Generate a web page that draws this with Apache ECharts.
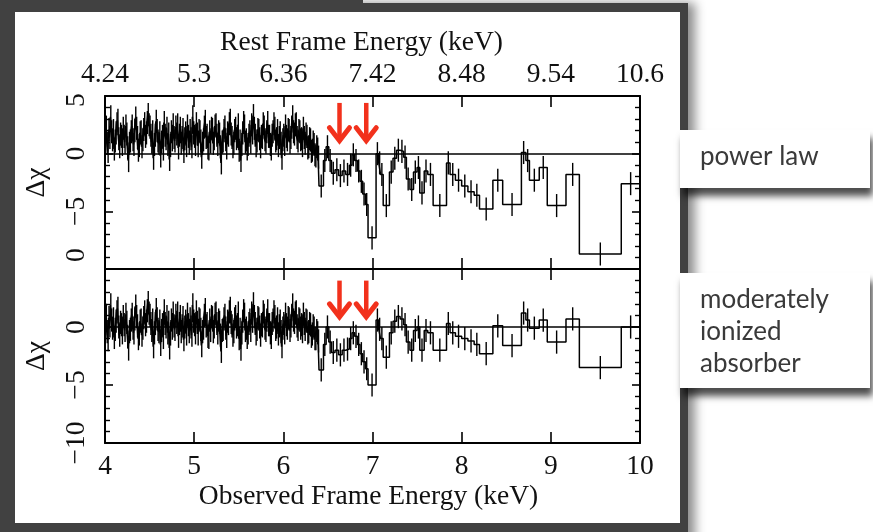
<!DOCTYPE html>
<html>
<head>
<meta charset="utf-8">
<script src="https://cdn.jsdelivr.net/npm/echarts@6/dist/echarts.min.js"></script>
<style>
html,body{margin:0;padding:0;background:#fff;}
#chart{width:873px;height:532px;}
</style>
</head>
<body>
<div id="chart"></div>
<script>
// Spectral bin edges in observed-frame energy (keV): lower edge of every bin plus the last upper edge
const binEdges = [
  4.00,4.01,4.02,4.03,4.04,4.05,4.06,4.07,4.08,4.09,4.10,4.11,4.12,4.13,4.14,4.15,4.16,4.17,4.18,4.19,
  4.20,4.21,4.22,4.23,4.24,4.25,4.26,4.27,4.28,4.29,4.30,4.31,4.32,4.33,4.34,4.35,4.36,4.37,4.38,4.39,
  4.40,4.41,4.42,4.43,4.44,4.45,4.46,4.47,4.48,4.49,4.50,4.51,4.52,4.53,4.54,4.55,4.56,4.57,4.58,4.59,
  4.60,4.61,4.62,4.63,4.64,4.65,4.66,4.67,4.68,4.69,4.70,4.71,4.72,4.73,4.74,4.75,4.76,4.77,4.78,4.79,
  4.80,4.81,4.82,4.83,4.84,4.85,4.86,4.87,4.88,4.89,4.90,4.91,4.92,4.93,4.94,4.95,4.96,4.97,4.98,4.99,
  5.00,5.01,5.02,5.03,5.04,5.05,5.06,5.07,5.08,5.09,5.10,5.11,5.12,5.13,5.14,5.15,5.16,5.17,5.18,5.19,
  5.20,5.21,5.22,5.23,5.24,5.25,5.26,5.27,5.28,5.29,5.30,5.31,5.32,5.33,5.34,5.35,5.36,5.37,5.38,5.39,
  5.40,5.41,5.42,5.43,5.44,5.45,5.46,5.47,5.48,5.49,5.50,5.51,5.52,5.53,5.54,5.55,5.56,5.57,5.58,5.59,
  5.60,5.61,5.62,5.63,5.64,5.65,5.66,5.67,5.68,5.69,5.70,5.71,5.72,5.73,5.74,5.75,5.76,5.77,5.78,5.79,
  5.80,5.81,5.82,5.83,5.84,5.85,5.86,5.87,5.88,5.89,5.90,5.91,5.92,5.93,5.94,5.95,5.96,5.97,5.98,5.99,
  6.00,6.01,6.02,6.03,6.04,6.05,6.06,6.07,6.08,6.09,6.10,6.11,6.12,6.13,6.14,6.15,6.16,6.17,6.18,6.19,
  6.20,6.21,6.22,6.23,6.24,6.25,6.26,6.27,6.28,6.29,6.30,6.31,6.32,6.33,6.34,6.35,6.36,6.37,6.38,6.39,
  6.40,6.45,6.48,6.51,6.54,6.58,6.62,6.66,6.70,6.74,
  6.77,6.80,6.83,6.86,6.89,6.92,6.95,7.04,7.07,7.09,
  7.12,7.19,7.23,7.27,7.31,7.35,7.38,7.42,7.46,7.50,
  7.53,7.58,7.62,7.68,7.83,7.87,7.93,8.00,8.07,8.14,
  8.20,8.35,8.46,8.67,8.72,8.76,8.87,8.96,9.17,9.32,
  9.79,10.00
];

// Residuals (delta chi) against a simple power law
const powerLawResid = [
  1.6,2.3,0.9,0.2,2.1,1.4,3.2,1.9,1.2,2.0,0.4,1.1,1.8,2.6,2.9,1.3,0.6,1.7,1.5,0.8,
  2.2,1.5,1.0,2.4,1.7,0.5,-0.6,0.9,1.1,1.9,2.4,1.2,0.8,2.0,3.1,2.2,1.4,0.3,0.7,1.8,
  1.9,0.6,1.2,2.1,2.6,1.5,1.8,2.7,3.4,2.5,2.3,1.6,1.0,1.9,-0.4,0.8,1.6,2.8,2.0,1.1,
  0.9,1.8,-0.2,1.0,1.5,0.4,2.7,1.6,1.3,2.2,0.8,1.7,-0.5,0.7,1.9,1.2,2.5,1.4,1.1,2.3,
  1.7,2.5,0.5,1.6,2.2,0.9,1.4,2.1,0.2,1.3,1.8,0.7,2.4,1.5,0.9,2.0,1.3,0.6,3.2,1.8,
  1.5,0.8,2.6,1.7,0.7,2.0,1.9,1.1,-0.3,0.9,1.2,2.3,2.8,1.4,1.6,0.5,0.4,1.9,1.0,2.2,
  2.1,0.9,1.3,2.4,2.5,1.6,0.8,1.9,1.7,0.6,-0.8,1.0,1.1,2.0,2.3,1.2,0.5,1.8,1.6,2.6,
  2.9,1.7,1.4,0.6,0.9,2.0,2.2,1.3,1.5,2.5,0.3,1.1,-0.6,0.8,1.8,2.7,2.4,1.0,1.2,0.4,
  0.8,1.6,1.9,1.0,2.5,1.8,3.3,2.2,1.6,0.7,1.1,2.1,2.0,1.3,0.6,1.5,1.4,2.6,2.3,1.2,
  1.0,1.9,2.7,1.5,1.5,0.8,0.4,1.6,1.9,2.6,2.2,1.1,1.3,2.0,0.7,1.4,1.8,0.9,-0.4,1.2,
  1.6,0.8,2.4,1.5,1.2,2.1,2.0,1.0,1.4,2.3,3.2,1.9,1.7,2.5,2.6,1.4,1.1,2.0,1.9,1.2,
  1.3,0.7,2.2,1.4,0.9,1.7,1.5,0.5,0.6,1.3,1.2,0.2,0.3,1.0,0.8,-0.1,-0.2,0.6,0.4,-0.3,
  -2.8,-0.6,0.6,-0.6,-1.7,-1.4,-1.9,-1.5,-1.8,-1.0,
  -0.1,-0.6,-1.5,-2.4,-3.5,-4.4,-7.3,0.0,-0.8,-1.8,
  -4.5,-1.6,-0.4,0.3,0.2,-0.3,-2.2,-3.1,-1.6,-1.2,
  -3.4,-1.5,-1.8,-4.5,-0.8,-1.8,-2.3,-2.8,-3.3,-3.6,
  -4.8,-2.3,-4.4,0.1,-0.6,-2.3,-1.2,-4.5,-1.8,-8.7,
  -2.6
];

// Residuals (delta chi) against the moderately ionized absorber model
const absorberResid = [
  0.3,1.0,-0.4,-1.1,0.8,0.1,1.9,0.6,-0.1,0.7,-0.9,-0.2,0.5,1.3,1.6,0.0,-0.7,0.4,0.2,-0.5,
  0.9,0.2,-0.3,1.1,0.4,-0.8,-1.9,-0.4,-0.2,0.6,1.1,-0.1,-0.5,0.7,1.8,0.9,0.1,-1.0,-0.6,0.5,
  0.6,-0.7,-0.1,0.8,1.3,0.2,0.5,1.4,2.1,1.2,1.0,0.3,-0.3,0.6,-1.7,-0.5,0.3,1.5,0.7,-0.2,
  -0.4,0.5,-1.5,-0.3,0.2,-0.9,1.4,0.3,0.0,0.9,-0.5,0.4,-1.8,-0.6,0.6,-0.1,1.2,0.1,-0.2,1.0,
  0.4,1.2,-0.8,0.3,0.9,-0.4,0.1,0.8,-1.1,0.0,0.5,-0.6,1.1,0.2,-0.4,0.7,0.0,-0.7,1.9,0.5,
  0.2,-0.5,1.3,0.4,-0.6,0.7,0.6,-0.2,-1.6,-0.4,-0.1,1.0,1.5,0.1,0.3,-0.8,-0.9,0.6,-0.3,0.9,
  0.8,-0.4,0.0,1.1,1.2,0.3,-0.5,0.6,0.4,-0.7,-2.1,-0.3,-0.2,0.7,1.0,-0.1,-0.8,0.5,0.3,1.3,
  1.6,0.4,0.1,-0.7,-0.4,0.7,0.9,0.0,0.2,1.2,-1.0,-0.2,-1.9,-0.5,0.5,1.4,1.1,-0.3,-0.1,-0.9,
  -0.5,0.3,0.6,-0.3,1.2,0.5,2.0,0.9,0.3,-0.6,-0.2,0.8,0.7,0.0,-0.7,0.2,0.1,1.3,1.0,-0.1,
  -0.3,0.6,1.4,0.2,0.2,-0.5,-0.9,0.3,0.6,1.3,0.9,-0.2,0.0,0.7,-0.6,0.1,0.5,-0.4,-1.7,-0.1,
  0.3,-0.5,1.1,0.2,-0.1,0.8,0.7,-0.3,0.1,1.0,1.9,0.6,0.4,1.2,1.3,0.1,-0.2,0.7,0.6,-0.1,
  0.2,-0.4,1.1,0.3,-0.2,0.6,0.5,-0.5,-0.4,0.3,0.2,-0.8,-0.6,0.1,-0.1,-1.0,-1.0,-0.3,-0.5,-1.2,
  -3.7,-1.5,0.0,-1.3,-2.2,-2.0,-2.4,-2.0,-1.9,-1.0,
  -0.5,-0.8,-1.5,-2.3,-3.0,-3.6,-5.0,0.6,-0.2,-1.0,
  -2.6,-0.5,0.5,0.9,0.7,0.2,-1.3,-2.0,-0.3,0.0,
  -2.0,-0.3,-0.5,-2.0,0.3,-0.5,-0.8,-1.0,-1.2,-1.5,
  -2.3,0.1,-1.6,1.2,0.6,-0.1,0.6,-1.3,0.7,-3.5,
  0.0
];

// Residuals are in units of sigma, so every error bar spans +/-1
const SIGMA = 1;

// Axis ticks: observed energy and the matching rest-frame energy (z = 0.06)
const observedTicks = [4, 5, 6, 7, 8, 9, 10];
const restTicks = ['4.24', '5.3', '6.36', '7.42', '8.48', '9.54', '10.6'];
const chiTicks = [-10, -5, 0, 5];
const powerLawChiText = ['0', '\u22125', '0', '5'];
const absorberChiText = ['\u221210', '\u22125', '0', ''];

// Marked absorption features (keV) and the vertical extent of each marker, in delta chi
const featureEnergies = [6.63, 6.93];
const powerLawMarker = [4.4, 0.95];
const absorberMarker = [4.0, 0.7];

const SERIF = "'Liberation Serif','Times New Roman','DejaVu Serif',serif";
const SERIF_SIZE = 27.5;
const INK = '#111';

function stepLine(vals) {
  const pts = [];
  vals.forEach((v, i) => {
    pts.push([binEdges[i], v]);
    pts.push([binEdges[i + 1], v]);
  });
  return pts;
}
function binCentres(vals) {
  return vals.map((v, i) => [(binEdges[i] + binEdges[i + 1]) / 2, v]);
}

function xAxisCfg(grid, pos, showLabels, labels, name, nameGap, nameShift, margin) {
  const ax = {
    type: 'value', gridIndex: grid, position: pos,
    min: 4, max: 10, interval: 1,
    axisLine: { show: true, onZero: false, lineStyle: { color: '#000', width: 2 } },
    axisTick: { show: true, inside: true, length: 11, lineStyle: { color: '#000', width: 1.6 } },
    splitLine: { show: false },
    axisLabel: { show: false }
  };
  if (showLabels) {
    ax.axisLabel = {
      show: true, margin: margin, color: INK, fontFamily: SERIF, fontSize: SERIF_SIZE,
      formatter: v => { const i = observedTicks.indexOf(v); return i >= 0 ? labels[i] : ''; }
    };
    ax.name = name;
    ax.nameLocation = 'middle';
    ax.nameGap = nameGap;
    ax.nameTextStyle = { color: INK, fontFamily: SERIF, fontSize: SERIF_SIZE, padding: [0, nameShift, 0, 0] };
  }
  return ax;
}

function yAxisCfg(grid, pos, labels, shiftTop) {
  const ax = {
    type: 'value', gridIndex: grid, position: pos,
    min: -10, max: 5, interval: 5,
    axisLine: { show: true, onZero: false, lineStyle: { color: '#000', width: 2 } },
    axisTick: { show: true, inside: true, length: 8, lineStyle: { color: '#000', width: 1.6 } },
    minorTick: { show: true, splitNumber: 5, length: 5, lineStyle: { color: '#000', width: 1.4 } },
    splitLine: { show: false },
    axisLabel: { show: false }
  };
  if (labels) {
    ax.axisLabel = {
      show: true, rotate: 90, margin: 14, color: INK, fontFamily: SERIF, fontSize: SERIF_SIZE,
      showMinLabel: true, showMaxLabel: true,
      formatter: v => {
        const i = chiTicks.indexOf(v);
        if (i < 0) return '';
        const t = labels[i];
        if (!shiftTop || t === '') return t;
        if (v === -10) return '{lo|' + t + '}';
        if (v === 5) return '{hi|' + t + '}';
        return t;
      },
      rich: {
        lo: { fontFamily: SERIF, fontSize: SERIF_SIZE, color: INK, padding: [0, 0, 0, 28] },
        hi: { fontFamily: SERIF, fontSize: SERIF_SIZE, color: INK, padding: [0, 8, 0, 0] }
      }
    };
    ax.name = '\u0394\u03c7';
    ax.nameLocation = 'middle';
    ax.nameRotate = 90;
    ax.nameGap = 54;
    ax.nameTextStyle = { color: INK, fontFamily: SERIF, fontSize: SERIF_SIZE };
  }
  return ax;
}

function stepSeries(xi, yi, vals) {
  return {
    type: 'line', xAxisIndex: xi, yAxisIndex: yi,
    data: stepLine(vals), showSymbol: false, symbol: 'none',
    lineStyle: { color: '#000', width: 1.5 }, z: 3, silent: true,
    markLine: {
      silent: true, symbol: 'none', label: { show: false },
      lineStyle: { color: '#000', width: 1.7, type: 'solid' },
      data: [{ yAxis: 0 }]
    }
  };
}

function errorSeries(xi, yi, vals) {
  return {
    type: 'custom', xAxisIndex: xi, yAxisIndex: yi, silent: true, z: 3,
    data: binCentres(vals),
    renderItem: (params, api) => {
      const x = api.value(0), v = api.value(1);
      const a = api.coord([x, v - SIGMA]);
      const b = api.coord([x, v + SIGMA]);
      return {
        type: 'line',
        shape: { x1: a[0], y1: a[1], x2: b[0], y2: b[1] },
        style: { stroke: '#000', lineWidth: 1.4 }
      };
    }
  };
}

function markerSeries(xi, yi, extent) {
  return {
    type: 'custom', xAxisIndex: xi, yAxisIndex: yi, silent: true, z: 5,
    data: featureEnergies.map(e => [e, extent[0], extent[1]]),
    renderItem: (params, api) => {
      const top = api.coord([api.value(0), api.value(1)]);
      const tip = api.coord([api.value(0), api.value(2)]);
      const red = '#f2311c';
      return {
        type: 'group',
        children: [
          { type: 'line', shape: { x1: top[0], y1: top[1], x2: tip[0], y2: tip[1] - 3 },
            style: { stroke: red, lineWidth: 4.5 } },
          { type: 'polyline',
            shape: { points: [[tip[0] - 10, tip[1] - 15], [tip[0], tip[1] - 2], [tip[0] + 10, tip[1] - 15]] },
            style: { stroke: red, lineWidth: 5, fill: null, lineJoin: 'miter', lineCap: 'round' } }
        ]
      };
    }
  };
}

const frameColor = '#414141';
const boxFont = '400 26px Lato, "Open Sans", sans-serif';
const option = {
  animation: false,
  backgroundColor: '#fff',
  graphic: [
    { type: 'rect', z: -20, shape: { x: 0, y: 3, width: 688, height: 545 },
      style: { fill: frameColor, shadowBlur: 10, shadowOffsetX: 7, shadowColor: 'rgba(0,0,0,0.45)' } },
    { type: 'rect', z: -19, shape: { x: 0, y: 0, width: 363, height: 5 }, style: { fill: frameColor } },
    { type: 'rect', z: -18, shape: { x: 15, y: 12, width: 665, height: 511 }, style: { fill: '#fff' } },
    { type: 'rect', z: -17, shape: { x: 680, y: 130, width: 190, height: 58 },
      style: { fill: '#fff', shadowBlur: 7, shadowOffsetX: 3, shadowOffsetY: 8, shadowColor: 'rgba(0,0,0,0.7)' } },
    { type: 'text', z: -16, style: { x: 700, y: 157, text: 'power law', fill: '#3a3a3a',
      font: boxFont, verticalAlign: 'middle' } },
    { type: 'rect', z: -17, shape: { x: 680, y: 273, width: 190, height: 115 },
      style: { fill: '#fff', shadowBlur: 7, shadowOffsetX: 3, shadowOffsetY: 8, shadowColor: 'rgba(0,0,0,0.7)' } },
    { type: 'text', z: -16, style: { x: 700, y: 284, text: 'moderately\nionized\nabsorber', fill: '#3a3a3a',
      font: boxFont, lineHeight: 32, verticalAlign: 'top' } }
  ],
  grid: [
    { left: 105, top: 96, width: 535, height: 173 },
    { left: 105, top: 269, width: 535, height: 174 }
  ],
  xAxis: [
    xAxisCfg(0, 'bottom', false),
    xAxisCfg(0, 'top', true, restTicks, 'Rest Frame Energy (keV)', 39, 22, 7),
    xAxisCfg(1, 'bottom', true, observedTicks.map(String), 'Observed Frame Energy (keV)', 40, 8, 10),
    xAxisCfg(1, 'top', false)
  ],
  yAxis: [
    yAxisCfg(0, 'left', powerLawChiText, true),
    yAxisCfg(0, 'right', null),
    yAxisCfg(1, 'left', absorberChiText, false),
    yAxisCfg(1, 'right', null)
  ],
  series: [
    stepSeries(0, 0, powerLawResid),
    errorSeries(0, 0, powerLawResid),
    markerSeries(0, 0, powerLawMarker),
    stepSeries(2, 2, absorberResid),
    errorSeries(2, 2, absorberResid),
    markerSeries(2, 2, absorberMarker)
  ]
};

const chart = echarts.init(document.getElementById('chart'), null, { renderer: 'canvas' });
chart.setOption(option);
</script>
</body>
</html>
